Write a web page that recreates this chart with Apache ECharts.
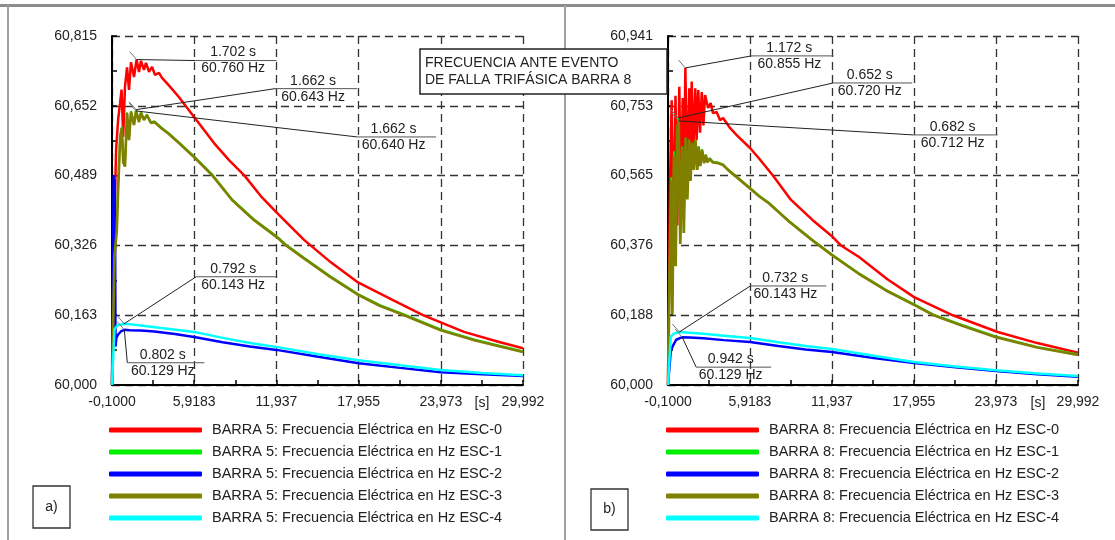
<!DOCTYPE html>
<html>
<head>
<meta charset="utf-8">
<script src="https://cdn.jsdelivr.net/npm/echarts@6.0.0/dist/echarts.min.js"></script>
<style>
  html, body { margin: 0; padding: 0; background: #fff; }
  #chart { width: 1115px; height: 540px; }
</style>
</head>
<body>
<div id="chart"></div>
<script>
// ejes
const xTickLabels = ['-0,1000', '5,9183', '11,937', '17,955', '23,973', '29,992'];
const yTickLabelsA = ['60,000', '60,163', '60,326', '60,489', '60,652', '60,815'];
const yTickLabelsB = ['60,000', '60,188', '60,376', '60,565', '60,753', '60,941'];
const escenarios = ['ESC-0', 'ESC-1', 'ESC-2', 'ESC-3', 'ESC-4'];
const colores = ['#ff0000', '#00ee00', '#0000ff', '#808000', '#00ffff'];
const grosores = [2.5, 1.8, 2.5, 2.7, 2.5];

// BARRA 5  [t (s), f (Hz)]
const barra5Esc0 = [[-0.1,60],[0.0,60.0],[0.05,60.35],[0.2,60.55],[0.35,60.62],[0.49,60.658],[0.6,60.69],[0.72,60.58],[0.85,60.696],[1.0,60.742],[1.145,60.689],[1.29,60.754],[1.51,60.719],[1.702,60.760],[1.877,60.731],[2.02,60.757],[2.24,60.736],[2.39,60.752],[2.61,60.731],[2.83,60.743],[3.05,60.724],[3.34,60.729],[3.56,60.717],[4.0,60.702],[4.81,60.672],[5.98,60.623],[7.37,60.565],[8.5,60.524],[9.6,60.489],[10.88,60.438],[11.98,60.402],[13.96,60.339],[15.9,60.287],[17.84,60.241],[20.47,60.198],[22.67,60.163],[25.67,60.124],[28.31,60.100],[29.99,60.086]];
const barra5Esc1 = [[-0.1,60],[0.0,60.0],[0.08,60.31],[0.25,60.37],[0.34,60.46],[0.5,60.583],[0.62,60.603],[0.72,60.523],[0.85,60.513],[1.0,60.637],[1.145,60.574],[1.29,60.640],[1.51,60.609],[1.662,60.643],[1.88,60.616],[2.02,60.638],[2.24,60.621],[2.45,60.632],[2.75,60.614],[3.0,60.616],[3.5,60.602],[4.0,60.590],[4.8,60.567],[5.92,60.534],[7.26,60.491],[8.69,60.434],[10.3,60.387],[11.94,60.348],[12.64,60.328],[13.9,60.299],[15.9,60.254],[17.96,60.212],[19.5,60.187],[21.3,60.165],[23.97,60.130],[26.5,60.106],[28.3,60.092],[29.99,60.079]];
const barra5Esc2 = [[-0.1,60],[0.0,60.0],[0.02,60.49],[0.07,60.10],[0.11,60.48],[0.16,60.09],[0.22,60.11],[0.35,60.118],[0.55,60.125],[0.802,60.129],[1.2,60.128],[2.0,60.127],[3.0,60.125],[4.5,60.119],[5.92,60.112],[8.0,60.100],[10.0,60.090],[11.94,60.082],[15.0,60.066],[17.96,60.051],[21.0,60.040],[23.97,60.030],[27.0,60.025],[29.99,60.021]];
const barra5Esc3 = [[-0.1,60],[0.0,60.0],[0.08,60.30],[0.25,60.36],[0.34,60.45],[0.5,60.58],[0.62,60.60],[0.72,60.52],[0.85,60.51],[1.0,60.635],[1.145,60.572],[1.29,60.638],[1.51,60.607],[1.662,60.640],[1.88,60.614],[2.02,60.636],[2.24,60.619],[2.45,60.630],[2.75,60.612],[3.0,60.614],[3.5,60.600],[4.0,60.588],[4.8,60.565],[5.92,60.532],[7.26,60.489],[8.69,60.432],[10.3,60.385],[11.94,60.346],[12.64,60.326],[13.9,60.297],[15.9,60.252],[17.96,60.210],[19.5,60.185],[21.3,60.163],[23.97,60.128],[26.5,60.104],[28.3,60.090],[29.99,60.077]];
const barra5Esc4 = [[-0.1,60],[0.0,60.0],[0.08,60.13],[0.3,60.139],[0.792,60.143],[1.5,60.141],[2.3,60.138],[3.5,60.133],[5.92,60.124],[8.0,60.110],[10.0,60.098],[11.94,60.089],[15.0,60.072],[17.96,60.058],[21.0,60.046],[23.97,60.035],[27.0,60.028],[29.99,60.023]];

// BARRA 8
const barra8Esc0 = [[-0.1,60],[0.0,60.0],[0.05,60.55],[0.17,60.768],[0.3,60.40],[0.45,60.78],[0.58,60.43],[0.73,60.804],[0.85,60.48],[0.98,60.774],[1.08,60.52],[1.172,60.855],[1.32,60.56],[1.46,60.80],[1.55,60.60],[1.64,60.818],[1.76,60.63],[1.9,60.80],[2.0,60.66],[2.12,60.795],[2.25,60.68],[2.38,60.79],[2.5,60.70],[2.62,60.782],[2.84,60.747],[3.03,60.760],[3.2,60.733],[3.47,60.736],[3.72,60.714],[3.94,60.720],[4.21,60.706],[4.45,60.693],[4.94,60.674],[5.92,60.639],[6.6,60.61],[7.6,60.565],[8.93,60.499],[10.5,60.445],[12.0,60.399],[12.6,60.376],[13.92,60.345],[16.0,60.285],[17.96,60.237],[20.8,60.188],[24.1,60.143],[27.0,60.113],[29.99,60.087]];
const barra8Esc1 = [[-0.1,60],[0.0,60.0],[0.06,60.41],[0.14,60.56],[0.22,60.20],[0.34,60.63],[0.46,60.33],[0.58,60.69],[0.652,60.720],[0.8,60.39],[0.95,60.643],[1.06,60.42],[1.2,60.667],[1.32,60.51],[1.45,60.662],[1.55,60.553],[1.68,60.654],[1.8,60.583],[1.92,60.661],[2.05,60.583],[2.15,60.644],[2.27,60.592],[2.4,60.636],[2.55,60.600],[2.67,60.622],[2.8,60.602],[2.95,60.612],[3.2,60.602],[3.6,60.600],[3.94,60.595],[4.3,60.582],[5.18,60.555],[6.65,60.509],[7.3,60.492],[8.8,60.442],[10.5,60.392],[11.94,60.352],[13.9,60.302],[15.9,60.257],[17.96,60.218],[19.4,60.190],[21.5,60.162],[23.97,60.131],[27.0,60.103],[29.99,60.083]];
const barra8Esc2 = [[-0.1,60],[0.0,60.0],[0.1,60.09],[0.25,60.105],[0.5,60.122],[0.942,60.129],[1.5,60.128],[2.5,60.126],[4.0,60.121],[5.92,60.116],[8.0,60.105],[10.0,60.096],[11.94,60.089],[15.0,60.073],[17.96,60.059],[21.0,60.048],[23.97,60.038],[27.0,60.029],[29.99,60.022]];
const barra8Esc3 = [[-0.1,60],[0.0,60.0],[0.06,60.40],[0.14,60.55],[0.22,60.19],[0.34,60.62],[0.46,60.32],[0.58,60.68],[0.682,60.712],[0.8,60.38],[0.95,60.64],[1.06,60.41],[1.2,60.665],[1.32,60.50],[1.45,60.66],[1.55,60.55],[1.68,60.652],[1.8,60.58],[1.92,60.66],[2.05,60.58],[2.15,60.642],[2.27,60.59],[2.4,60.634],[2.55,60.598],[2.67,60.62],[2.8,60.60],[2.95,60.61],[3.2,60.60],[3.6,60.598],[3.94,60.593],[4.3,60.580],[5.18,60.553],[6.65,60.507],[7.3,60.49],[8.8,60.44],[10.5,60.39],[11.94,60.350],[13.9,60.30],[15.9,60.255],[17.96,60.216],[19.4,60.188],[21.5,60.160],[23.97,60.129],[27.0,60.101],[29.99,60.081]];
const barra8Esc4 = [[-0.1,60],[0.0,60.0],[0.1,60.13],[0.3,60.138],[0.732,60.143],[1.5,60.141],[2.5,60.138],[4.0,60.133],[5.92,60.127],[8.0,60.115],[10.0,60.105],[11.94,60.097],[15.0,60.079],[17.96,60.062],[21.0,60.050],[23.97,60.040],[27.0,60.031],[29.99,60.024]];

// marcas de cursor [t, f]
const cursoresA = [[1.702, 60.760], [1.662, 60.643], [1.662, 60.640], [0.792, 60.143], [0.802, 60.129]];
const cursoresB = [[1.172, 60.855], [0.652, 60.720], [0.682, 60.712], [0.732, 60.143], [0.942, 60.129]];
// desplazamiento de la etiqueta respecto al punto: dx, dy, ancho (px)
const posCursorA = [[59, 1, 81], [139, -21, 82], [221, 26, 79], [72, -47, 80], [3, 33, 77]];
const posCursorB = [[66, -12, 82], [155, -35, 79], [235, 14, 84], [71, -46, 76], [14, 30, 75]];

const FONT = '"Liberation Sans", Arial, sans-serif';
const xMin = -0.1, xStep = 6.0183;

function ejeX(gi) {
  return {
    gridIndex: gi, type: 'value', min: xMin, max: xMin + 5 * xStep, interval: xStep,
    axisLine: {onZero: false, lineStyle: {color: '#000', width: 2}},
    axisTick: {show: true, inside: true, length: 5, lineStyle: {color: '#000', width: 1.5}},
    minorTick: {show: true, splitNumber: 2, length: 5, lineStyle: {color: '#000', width: 1.5}},
    axisLabel: {
      margin: 10, color: '#222', fontSize: 14, fontFamily: FONT,
      formatter: function (v, i) { return xTickLabels[i]; }
    },
    splitLine: {show: true, lineStyle: {color: '#333', width: 1.3, type: [8, 5]}}
  };
}

function ejeY(gi, labels, max, step) {
  return {
    gridIndex: gi, type: 'value', min: 60, max: max, interval: step,
    axisLine: {onZero: false, lineStyle: {color: '#000', width: 2}},
    axisTick: {show: true, inside: true, length: 5, lineStyle: {color: '#000', width: 1.5}},
    minorTick: {show: true, splitNumber: 2, length: 5, lineStyle: {color: '#000', width: 1.5}},
    axisLabel: {
      margin: 15, color: '#222', fontSize: 14, fontFamily: FONT,
      formatter: function (v, i) { return labels[i]; }
    },
    splitLine: {show: true, lineStyle: {color: '#333', width: 1.3, type: [8, 5]}}
  };
}

function curva(name, data, color, width, gi) {
  return {
    name: name, type: 'line', xAxisIndex: gi, yAxisIndex: gi, data: data,
    showSymbol: false, symbol: 'none', animation: false,
    lineStyle: {color: color, width: width}, itemStyle: {color: color}
  };
}

function cursores(data, pos, gi) {
  return {
    type: 'custom', xAxisIndex: gi, yAxisIndex: gi, data: data, animation: false, z: 10,
    renderItem: function (params, api) {
      const t = api.value(0), f = api.value(1);
      const p = api.coord([t, f]);
      const o = pos[params.dataIndex];
      const ax = p[0] + o[0], ay = p[1] + o[1], w = o[2];
      const txt = {fontSize: 14, fontFamily: FONT, fill: '#222', align: 'center', verticalAlign: 'middle'};
      return {
        type: 'group',
        children: [
          {type: 'line', shape: {x1: p[0] - 7, y1: p[1] - 8, x2: p[0], y2: p[1]}, style: {stroke: '#777', lineWidth: 1}},
          {type: 'line', shape: {x1: p[0], y1: p[1], x2: ax, y2: ay}, style: {stroke: '#222', lineWidth: 1}},
          {type: 'line', shape: {x1: ax, y1: ay, x2: ax + w, y2: ay}, style: {stroke: '#555', lineWidth: 1}},
          {type: 'text', x: ax + w / 2 - 3, y: ay - 8, style: Object.assign({text: t.toFixed(3) + ' s'}, txt)},
          {type: 'text', x: ax + w / 2 - 3, y: ay + 8, style: Object.assign({text: f.toFixed(3) + ' Hz'}, txt)}
        ]
      };
    }
  };
}

const nombresA = escenarios.map(e => 'BARRA 5: Frecuencia Eléctrica en Hz ' + e);
const nombresB = escenarios.map(e => 'BARRA 8: Frecuencia Eléctrica en Hz ' + e);
const datosA = [barra5Esc0, barra5Esc1, barra5Esc2, barra5Esc3, barra5Esc4];
const datosB = [barra8Esc0, barra8Esc1, barra8Esc2, barra8Esc3, barra8Esc4];

const series = [];
datosA.forEach((d, i) => series.push(curva(nombresA[i], d, colores[i], grosores[i], 0)));
datosB.forEach((d, i) => series.push(curva(nombresB[i], d, colores[i], grosores[i], 1)));
series.push(cursores(cursoresA, posCursorA, 0));
series.push(cursores(cursoresB, posCursorB, 1));

function leyenda(left, names) {
  return {
    left: left, top: 422, orient: 'vertical', data: names,
    icon: 'roundRect', itemWidth: 93, itemHeight: 5, itemGap: 6, padding: 0,
    selectedMode: false,
    textStyle: {fontSize: 14.5, lineHeight: 16, color: '#222', fontFamily: FONT, padding: [0, 0, 0, 5]}
  };
}

function caja(x, y, w, h, texto) {
  return {
    type: 'group',
    children: [
      {type: 'rect', z: 100, shape: {x: x, y: y, width: w, height: h}, style: {fill: '#fff', stroke: '#333', lineWidth: 1.3}},
      {type: 'text', z: 101, x: x + w / 2, y: y + h / 2, style: {text: texto, fontSize: 14, fontFamily: FONT, fill: '#222', align: 'center', verticalAlign: 'middle'}}
    ]
  };
}

const chart = echarts.init(document.getElementById('chart'), null, {renderer: 'canvas'});
const option = {
  animation: false,
  backgroundColor: '#fff',
  grid: [
    {left: 112, top: 36, width: 411, height: 349},
    {left: 668, top: 36, width: 410, height: 349}
  ],
  xAxis: [ejeX(0), ejeX(1)],
  yAxis: [ejeY(0, yTickLabelsA, 60.815, 0.163), ejeY(1, yTickLabelsB, 60.941, 0.1882)],
  legend: [leyenda(109, nombresA), leyenda(666, nombresB)],
  series: series,
  graphic: [
    // marco
    {type: 'rect', z: 90, shape: {x: 0, y: 4, width: 1115, height: 3}, style: {fill: '#8c8c8c'}},
    {type: 'rect', z: 90, shape: {x: 7, y: 5, width: 2, height: 535}, style: {fill: '#a0a0a0'}},
    {type: 'rect', z: 90, shape: {x: 564, y: 5, width: 2, height: 535}, style: {fill: '#a0a0a0'}},
    // unidad del eje x
    {type: 'text', z: 90, x: 482, y: 403, style: {text: '[s]', fontSize: 14, fontFamily: FONT, fill: '#222', align: 'center', verticalAlign: 'middle'}},
    {type: 'text', z: 90, x: 1038, y: 403, style: {text: '[s]', fontSize: 14, fontFamily: FONT, fill: '#222', align: 'center', verticalAlign: 'middle'}},
    // titulo
    {
      type: 'group',
      children: [
        {type: 'rect', z: 100, shape: {x: 420, y: 49, width: 247, height: 45}, style: {fill: '#fff', stroke: '#222', lineWidth: 1.5}},
        {type: 'text', z: 101, x: 425, y: 63, style: {text: 'FRECUENCIA ANTE EVENTO', fontSize: 14, fontFamily: FONT, fill: '#222', verticalAlign: 'middle'}},
        {type: 'text', z: 101, x: 425, y: 80, style: {text: 'DE FALLA TRIFÁSICA BARRA 8', fontSize: 14, fontFamily: FONT, fill: '#222', verticalAlign: 'middle'}}
      ]
    },
    caja(33, 486, 37, 42, 'a)'),
    caja(591, 489, 37, 41, 'b)')
  ]
};
chart.setOption(option);
</script>
</body>
</html>
